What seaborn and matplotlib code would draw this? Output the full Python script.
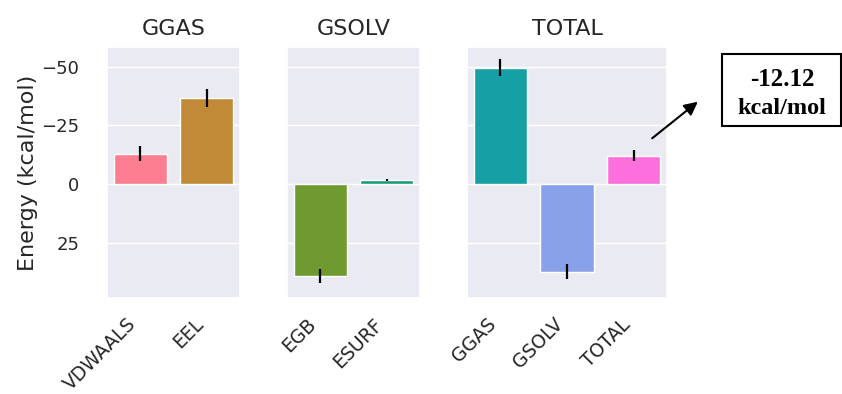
import matplotlib
matplotlib.use("Agg")
import matplotlib.pyplot as plt
import seaborn as sns
from matplotlib.patches import Rectangle, FancyArrowPatch

# MM/GBSA energy decomposition (kcal/mol)
groups = ["GGAS", "GSOLV", "TOTAL"]
terms = [["VDWAALS", "EEL"], ["EGB", "ESURF"], ["GGAS", "GSOLV", "TOTAL"]]
energies = [[-12.90, -36.60], [39.20, -1.82], [-49.50, 37.38, -12.12]]
errors = [[3.2, 3.7], [3.1, 0.4], [3.7, 3.2, 2.4]]
yticks = [-50, -25, 0, 25]
total_label = "-12.12\nkcal/mol"

# one colour per energy term, in plotting order
term_colors = ["#fd7e91", "#c08a36", "#6f9a30", "#1a9c7c",
               "#16a0a6", "#89a1e9", "#fd6fdc"]

sns.set_theme(style="darkgrid")
plt.rcParams["font.family"] = ["DejaVu Sans"]

fig = plt.figure(figsize=(8.42, 3.94), dpi=100)
W, H = 842, 394

def px_axes(left, top, width, height):
    return [left / W, 1 - (top + height) / H, width / W, height / H]

boxes = [px_axes(107, 47, 133, 251), px_axes(287, 47, 133, 251), px_axes(467, 47, 200, 251)]

axes = []
start = 0
for i, (group, names, vals, errs) in enumerate(zip(groups, terms, energies, errors)):
    ax = fig.add_axes(boxes[i], sharey=axes[0] if axes else None)
    n = len(names)
    sns.barplot(x=names, y=vals, hue=names, palette=term_colors[start:start + n],
                legend=False, errorbar=None, width=0.8, saturation=1.0, ax=ax)
    ax.errorbar(range(n), vals, yerr=errs, fmt="none", ecolor="black",
                elinewidth=1.6, capsize=0)
    start += n
    ax.set_title(group, fontsize=16, pad=9)
    ax.set_xticks(range(n))
    ax.set_xticklabels(names, rotation=45, ha="right", fontsize=13.5)
    ax.tick_params(axis="x", pad=6)
    ax.set_xlim(-0.5, n - 0.5)
    if i == 0:
        ax.set_ylabel("Energy (kcal/mol)", fontsize=16)
        ax.yaxis.set_label_coords(-0.52, 0.5)
        ax.set_yticks(yticks)
        ax.tick_params(axis="y", labelsize=13, pad=14)
    else:
        ax.tick_params(labelleft=False)
        ax.set_ylabel("")
    axes.append(ax)

axes[0].set_ylim(48.5, -58.3)

# Callout with the overall binding free energy
fig.add_artist(Rectangle((722 / W, 1 - 126 / H), 119 / W, 72 / H,
                         transform=fig.transFigure, facecolor="white",
                         edgecolor="black", linewidth=1.5, clip_on=False))
line1, line2 = total_label.split("\n")
fig.text(782 / W, 1 - 79 / H, line1, ha="center", va="center",
         fontsize=18, fontweight="bold", family="Liberation Serif", color="black")
fig.text(782 / W, 1 - 108 / H, line2, ha="center", va="center",
         fontsize=17.5, fontweight="bold", family="Liberation Serif", color="black")
fig.add_artist(FancyArrowPatch((650 / W, 1 - 140 / H), (700 / W, 1 - 100 / H),
                               transform=fig.transFigure, arrowstyle="-|>",
                               mutation_scale=20, color="black", linewidth=1.5))

fig.savefig("out.png", dpi=100)
